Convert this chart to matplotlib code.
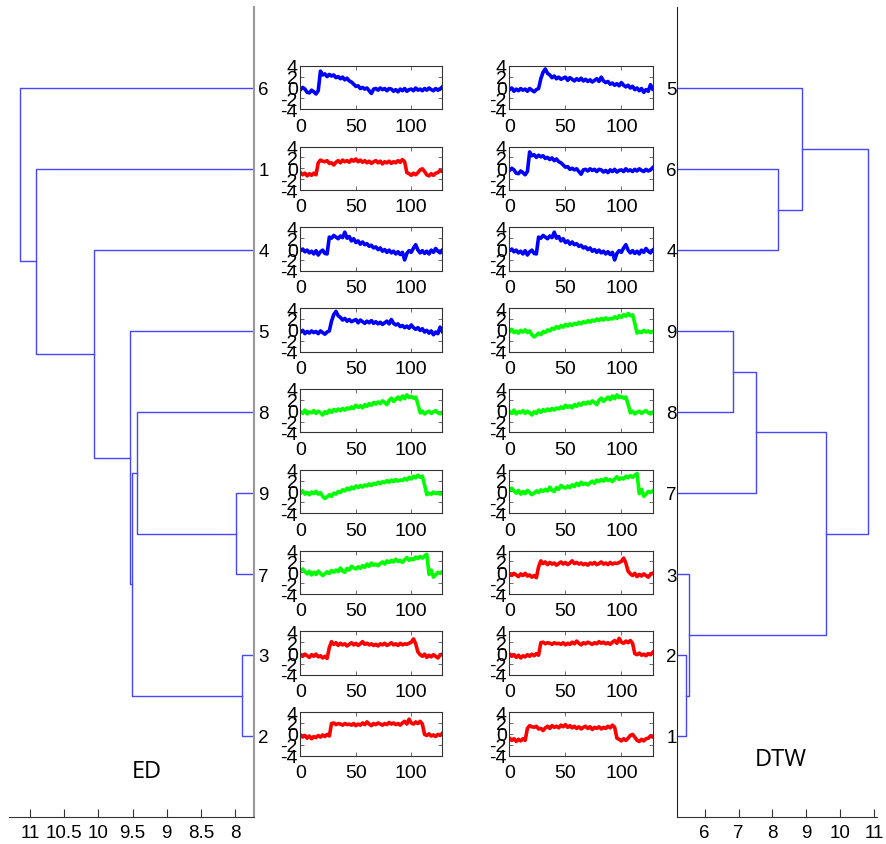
import numpy as np
import matplotlib
matplotlib.use("Agg")
import matplotlib.pyplot as plt

plt.rcParams["font.family"] = ["Liberation Sans", "DejaVu Sans"]
plt.rcParams["axes.unicode_minus"] = False

W, H = 887, 845

# Nine time series, read every 2nd sample (sample index 0, 2, ..., 128)
series_1 = [-0.8, -1.2, -0.9, -1.4, -1.0, -1.3, -0.9, -1.2, 1.0, 1.5, 1.3, 1.2, 1.4,
            0.9, 1.0, 0.6, 1.1, 1.4, 1.0, 1.5, 1.2, 1.4, 1.1, 1.6, 1.3, 1.7, 1.2, 1.5,
            1.1, 1.4, 1.0, 1.3, 0.9, 1.2, 1.4, 1.0, 1.3, 0.8, 1.2, 1.0, 1.3, 0.9, 1.2,
            1.0, 1.4, 1.1, 1.6, 1.2, -0.8, -1.0, -1.3, -0.9, -1.2, -0.8, -0.3, -0.1,
            -0.6, -1.2, -1.4, -1.0, -1.3, -0.9, -0.8, -0.4, -0.6]
series_2 = [-0.2, -0.6, -0.3, -0.8, -0.4, -0.9, -0.5, -0.7, -0.3, -0.6, -0.2, -0.5,
            -0.1, -0.4, 1.9, 2.0, 1.7, 1.9, 1.8, 1.6, 1.9, 1.7, 1.8, 1.6, 1.9, 1.5, 1.8,
            1.6, 2.0, 1.7, 2.2, 1.8, 1.5, 1.9, 1.7, 2.0, 1.8, 1.6, 1.9, 1.7, 2.1, 1.8,
            2.0, 1.7, 1.9, 1.6, 2.0, 2.3, 1.8, 2.7, 2.0, 1.8, 2.2, 1.9, 2.3, 1.8, -0.1,
            -0.3, 0.0, -0.4, -0.2, -0.5, -0.1, -0.3, 0.1]
series_3 = [-0.4, -0.6, -0.2, -0.5, -0.8, -0.3, -0.6, -0.2, -0.7, -0.5, -0.9, -0.6,
            -1.0, 1.0, 2.1, 1.6, 1.9, 1.4, 1.8, 1.5, 1.7, 1.3, 1.6, 1.9, 1.5, 1.8, 1.4,
            1.7, 2.1, 1.6, 1.8, 1.5, 1.7, 1.4, 1.6, 1.3, 1.7, 1.5, 1.8, 1.4, 1.6, 1.9,
            1.5, 1.7, 1.4, 1.8, 1.5, 1.7, 1.6, 1.8, 2.0, 2.6, 1.7, 0.2, -0.3, -0.6,
            -0.2, -0.8, -0.4, -0.7, -0.3, -0.6, -0.9, -0.4, -0.2]
series_4 = [-0.3, 0.0, -0.5, -0.2, -0.7, -0.4, -0.9, -0.3, -1.1, -0.5, -0.2, -0.8,
            -0.9, 2.2, 2.0, 2.5, 2.2, 1.9, 2.4, 2.1, 3.1, 2.0, 2.3, 1.5, 1.9, 1.2, 1.5,
            0.9, 1.3, 0.8, 1.0, 0.5, 0.7, 0.2, 0.4, -0.1, 0.2, -0.4, -0.1, -0.6, -0.2,
            -0.7, -0.4, -0.9, -0.5, -1.0, -0.6, -2.0, -0.8, -0.3, -0.6, 0.2, 0.8, -0.2,
            -0.7, -0.3, -0.8, -0.4, -0.9, -0.2, -0.6, 0.1, -0.4, -0.7, -0.2]
series_5 = [-0.4, -0.1, -0.7, -0.3, -0.6, -0.2, -0.5, -0.3, -0.7, -0.2, -0.5, -0.8,
            -0.4, -0.2, 1.6, 2.8, 3.4, 2.6, 2.3, 1.8, 2.1, 1.6, 1.9, 1.5, 1.7, 1.9, 1.3,
            1.8, 1.5, 1.2, 1.6, 1.3, 1.7, 1.2, 1.5, 1.1, 1.4, 1.0, 1.3, 1.6, 1.1, 1.9,
            1.2, 0.9, 1.1, 0.6, 0.8, 0.4, 0.7, 0.3, 0.9, 0.4, 0.1, 0.4, -0.1, 0.2, -0.4,
            -0.1, -0.6, -0.2, -0.9, -0.4, -0.7, 0.5, -0.3]
series_6 = [-0.4, 0.0, -0.3, -0.9, -1.0, -0.5, -0.8, -1.2, -0.6, 3.0, 2.3, 2.5, 2.0,
            2.4, 2.1, 2.3, 1.8, 2.0, 1.6, 1.9, 1.4, 1.7, 1.2, 1.0, 0.6, 0.2, 0.3, -0.2,
            0.0, -0.3, -0.1, -0.6, -1.1, -0.3, -0.2, -0.5, -0.1, -0.4, -0.2, -0.6, -0.2,
            -0.3, -0.7, -0.4, -0.8, -0.3, -0.6, -0.2, -0.7, -0.4, -0.3, -0.6, -0.1,
            -0.5, -0.3, -0.6, -0.2, -0.5, -0.1, -0.4, -0.6, -0.2, -0.5, -0.3, 0.1]
series_7 = [0.3, 0.6, 0.1, -0.3, 0.2, -0.5, 0.0, -0.4, 0.2, -0.2, -0.6, -0.3, 0.1,
            -0.2, 0.3, 0.0, 0.4, 0.1, 0.8, 0.2, 0.0, 0.7, 0.4, 1.1, 0.8, 0.6, 1.0, 0.7,
            1.2, 0.9, 1.5, 1.1, 1.7, 1.3, 1.5, 1.2, 1.6, 1.9, 1.5, 2.1, 1.8, 2.2, 1.9,
            2.4, 2.0, 2.2, 1.8, 2.3, 2.7, 2.2, 2.5, 2.3, 2.8, 2.5, 2.9, 2.6, 3.0, 3.3,
            -0.4, 0.4, -0.9, -0.5, 0.0, -0.2, 0.1]
series_8 = [-0.2, -0.5, 0.1, -0.6, -0.2, -0.4, 0.0, -0.5, -0.1, -0.4, -0.8, -0.2,
            -0.5, 0.1, -0.3, 0.2, -0.1, 0.3, 0.0, 0.4, 0.1, 0.5, 0.3, 0.7, 0.4, 1.0, 0.6,
            0.9, 0.5, 1.1, 0.8, 1.3, 1.0, 1.5, 1.2, 1.6, 1.3, 1.8, 1.5, 1.1, 1.9, 2.3,
            1.7, 2.1, 2.5, 2.0, 2.7, 2.2, 2.9, 2.4, 2.6, 2.3, 2.5, 1.2, -0.4, -0.1,
            -0.6, -0.3, -0.1, -0.5, -0.2, 0.0, -0.4, -0.6, -0.3]
series_9 = [-0.3, 0.1, -0.5, -0.2, -0.6, -0.1, -0.4, 0.0, -0.5, -0.2, -0.9, -1.3,
            -1.0, -0.6, -0.9, -0.3, -0.5, 0.0, -0.2, 0.3, 0.1, 0.6, 0.3, 0.8, 0.5, 1.0,
            0.7, 1.1, 0.8, 1.2, 1.0, 1.4, 1.1, 1.5, 1.3, 1.7, 1.4, 1.8, 1.6, 2.0, 1.7,
            2.1, 1.8, 2.2, 1.9, 2.1, 2.0, 2.4, 2.1, 2.6, 2.3, 2.8, 2.5, 3.0, 2.6, 2.8,
            1.2, -0.6, -0.3, -0.5, -0.1, -0.4, -0.2, -0.5, -0.3]

series = {1: series_1, 2: series_2, 3: series_3, 4: series_4, 5: series_5,
          6: series_6, 7: series_7, 8: series_8, 9: series_9}
series_colors = {1: "#ff0000", 2: "#ff0000", 3: "#ff0000",
                 4: "#0000ff", 5: "#0000ff", 6: "#0000ff",
                 7: "#00ff00", 8: "#00ff00", 9: "#00ff00"}

# dendrograms: leaf order from bottom to top, merges (a, b, height);
# new clusters get ids 10, 11, ... in merge order
ed_order = [2, 3, 7, 9, 8, 5, 4, 1, 6]
ed_merges = [(3, 2, 7.89), (9, 7, 7.98), (8, 11, 9.44), (12, 10, 9.51),
             (5, 13, 9.54), (4, 14, 10.06), (1, 15, 10.91), (6, 16, 11.15)]
ed_ticks = [8, 8.5, 9, 9.5, 10, 10.5, 11]

dtw_order = [1, 2, 3, 7, 8, 9, 4, 6, 5]
dtw_merges = [(2, 1, 5.45), (3, 10, 5.53), (9, 8, 6.84), (7, 12, 7.5),
              (6, 4, 8.17), (5, 14, 8.87), (13, 11, 9.59), (15, 16, 10.83)]
dtw_ticks = [6, 7, 8, 9, 10, 11]

LINK_COLOR = "#4646ff"


def px_axes(fig, x0, y0, x1, y1):
    """Axes from pixel box (top-left origin)."""
    return fig.add_axes([x0 / W, 1 - y1 / H, (x1 - x0) / W, (y1 - y0) / H])


def draw_dendrogram(ax, order, merges):
    pos = {leaf: (i + 1, 0.0) for i, leaf in enumerate(order)}
    nxt = len(order) + 1
    for a, b, h in merges:
        ya, ha = pos[a]
        yb, hb = pos[b]
        ax.plot([ha, h, h, hb], [ya, ya, yb, yb], color=LINK_COLOR, lw=1.0)
        pos[nxt] = ((ya + yb) / 2, h)
        nxt += 1
    ax.set_ylim(0, 10)
    ax.set_yticks(range(1, len(order) + 1))
    ax.set_yticklabels([str(l) for l in order])
    ax.spines["top"].set_visible(False)


fig = plt.figure(figsize=(W / 100, H / 100), dpi=100)

# left dendrogram (ED)
axl = px_axes(fig, 9, 8, 254, 818)
draw_dendrogram(axl, ed_order, ed_merges)
axl.set_xlim(11.31, 7.72)
axl.set_xticks(ed_ticks)
axl.set_xticklabels([f"{t:g}" for t in ed_ticks])
axl.spines["left"].set_visible(False)
axl.spines["right"].set_color("#999999")
axl.spines["right"].set_linewidth(1.5)
axl.spines["bottom"].set_color("#333333")
axl.yaxis.tick_right()
axl.tick_params(axis="y", length=0, pad=3, labelsize=13.5)
axl.tick_params(axis="x", direction="in", length=6, pad=5, labelsize=13.5,
                color="#333333")
axl.text(0.563, 0.057, "ED", transform=axl.transAxes, fontsize=17,
         family=["Open Sans", "DejaVu Sans"], ha="center", va="center")

# right dendrogram (DTW)
axr = px_axes(fig, 677, 8, 877, 818)
draw_dendrogram(axr, dtw_order, dtw_merges)
axr.set_xlim(5.18, 11.09)
axr.set_xticks(dtw_ticks)
axr.spines["right"].set_visible(False)
axr.spines["left"].set_color("#222222")
axr.spines["bottom"].set_color("#333333")
axr.tick_params(axis="y", length=0, pad=0, labelsize=13.5)
axr.tick_params(axis="x", direction="in", length=6, pad=5, labelsize=13.5,
                color="#333333")
axr.text(0.52, 0.0716, "DTW", transform=axr.transAxes, fontsize=17,
         family=["Open Sans", "DejaVu Sans"], ha="center", va="center")

# time series panels, in the leaf order of each dendrogram (top to bottom)
panel_cols = [(300.5, 442.3, ed_order[::-1]), (509.5, 652.7, dtw_order[::-1])]
for x0, x1, col_order in panel_cols:
    for k, sid in enumerate(col_order):
        top = 66.7 + 80.8 * k
        ax = px_axes(fig, x0, top, x1, top + 43.5)
        vals = series[sid]
        xs = np.arange(len(vals)) * 2
        ax.plot(xs, vals, color=series_colors[sid], lw=2.6)
        ax.set_xlim(0, 128)
        ax.set_ylim(-4, 4)
        ax.set_xticks([0, 50, 100])
        ax.set_yticks([-4, -2, 0, 2, 4])
        ax.tick_params(direction="in", top=True, right=True, length=3,
                       labelsize=14, width=0.6, color="#555555")
        ax.tick_params(axis="y", pad=2)
        ax.tick_params(axis="x", pad=6)
        for s in ax.spines.values():
            s.set_color("#333333")
            s.set_linewidth(0.8)

fig.savefig("out.png", dpi=100)
